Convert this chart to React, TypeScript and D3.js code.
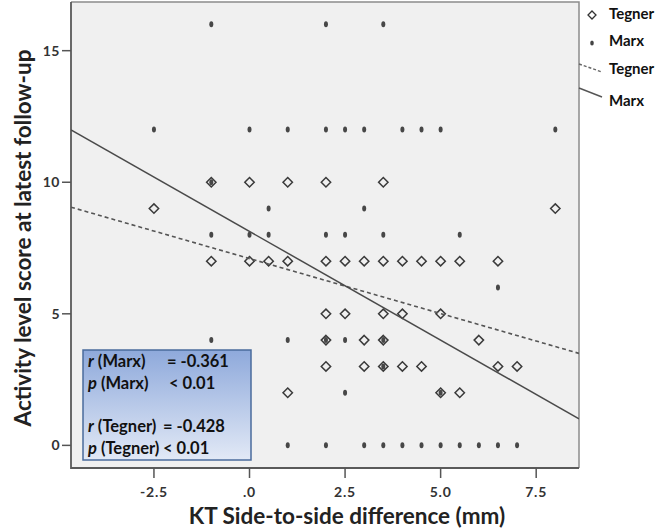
import React from 'react';
import * as d3 from 'd3';

// ---- data ----
const xTicks = [-2.5, 0, 2.5, 5, 7.5];
const xTickLabels = ['-2.5', '.0', '2.5', '5.0', '7.5'];
const yTicks = [0, 5, 10, 15];
const yTickLabels = ['0', '5', '10', '15'];

// Tegner scores (hollow diamonds): [KT diff, score]
const tegnerPoints: [number, number][] = [
  [-2.5, 9], [-1, 10], [0, 10], [1, 10], [2, 10], [3.5, 10], [8, 9],
  [-1, 7], [0, 7], [0.5, 7], [1, 7], [2, 7], [2.5, 7], [3, 7], [3.5, 7], [4, 7], [4.5, 7], [5, 7], [5.5, 7], [6.5, 7],
  [2, 5], [2.5, 5], [3.5, 5], [4, 5], [5, 5],
  [2, 4], [3, 4], [3.5, 4], [6, 4],
  [2, 3], [3, 3], [3.5, 3], [4, 3], [4.5, 3], [6.5, 3], [7, 3],
  [1, 2], [5, 2], [5.5, 2],
];

// Marx scores (small filled dots)
const marxPoints: [number, number][] = [
  [-1, 16], [2, 16], [3.5, 16],
  [-2.5, 12], [0, 12], [1, 12], [2, 12], [2.5, 12], [3, 12], [4, 12], [4.5, 12], [5, 12], [8, 12],
  [-1, 10],
  [0.5, 9], [3, 9],
  [-1, 8], [0, 8], [0.5, 8], [2, 8], [2.5, 8], [3.5, 8], [5.5, 8],
  [6.5, 6],
  [-1, 4], [1, 4], [2, 4], [2.5, 4], [3.5, 4],
  [3.5, 3],
  [2.5, 2], [5, 2],
  [1, 0], [2, 0], [3, 0], [3.5, 0], [4, 0], [4.5, 0], [5, 0], [5.5, 0], [6, 0], [6.5, 0], [7, 0],
];

// fit lines: [intercept, slope]
const marxFit = [8.13, -0.826];
const tegnerFit = [7.1, -0.418];

const legendLabels = ['Tegner', 'Marx', 'Tegner', 'Marx'];
const statNames = ['r', 'p', 'r', 'p'];
const statGroups = ['(Marx)', '(Marx)', '(Tegner)', '(Tegner)'];
const statValues = ['= -0.361', '< 0.01', '= -0.428', '< 0.01'];

const FONT = 'Lato, "Open Sans", sans-serif';

export default function App() {
  const W = 660, H = 531;
  const left = 71, right = 579, top = 2, bottom = 468;
  const x = d3.scaleLinear().domain([-4.67, 8.62]).range([left, right]);
  const y = d3.scaleLinear().domain([-0.86, 16.85]).range([bottom, top]);

  const diamond = (s: number) => `M0,${-s}L${s},0L0,${s}L${-s},0Z`;
  const [x0, x1] = x.domain();
  const fitLine = (f: number[]) =>
    d3.line<number>().x((v) => x(v)).y((v) => y(f[0] + f[1] * v))([x0, x1]) || '';

  const statLineY = [367, 389, 432, 454];
  const valueX = [167, 169, 163, 163];

  return (
    <svg width={W} height={H} style={{ position: 'absolute', left: 0, top: 0, background: '#fff' }}
      fontFamily={FONT}>
      <defs>
        <linearGradient id="boxg" x1="0" y1="0" x2="0" y2="1">
          <stop offset="0%" stopColor="#8ea9db" />
          <stop offset="100%" stopColor="#e2e9f6" />
        </linearGradient>
        <clipPath id="plotclip">
          <rect x={left} y={top} width={right - left} height={bottom - top} />
        </clipPath>
      </defs>
      {/* plot background */}
      <rect x={left} y={top} width={right - left} height={bottom - top} fill="#f0f0f0" />
      {/* top/right border */}
      <path d={`M${left},${top}H${right}V${bottom}`} fill="none" stroke="#8c8c8c" strokeWidth={1.5} />
      {/* axes */}
      <path d={`M${left},${top}V${bottom}H${right}`} fill="none" stroke="#5a5a5a" strokeWidth={1.8} />

      {/* y ticks */}
      {yTicks.map((t, i) => (
        <g key={'yt' + i}>
          <line x1={left - 9} x2={left} y1={y(t)} y2={y(t)} stroke="#555" strokeWidth={1.5} />
          <text x={left - 11} y={y(t) + 5} textAnchor="end" fontSize={14} fontWeight={700} fill="#333"
            letterSpacing={0.5}>
            {yTickLabels[i]}
          </text>
        </g>
      ))}
      {/* x ticks */}
      {xTicks.map((t, i) => (
        <g key={'xt' + i}>
          <line x1={x(t)} x2={x(t)} y1={bottom} y2={bottom + 10} stroke="#555" strokeWidth={1.5} />
          <text x={x(t)} y={497} textAnchor="middle" fontSize={14} fontWeight={700} fill="#333"
            letterSpacing={0.8}>
            {xTickLabels[i]}
          </text>
        </g>
      ))}

      <g clipPath="url(#plotclip)">
        {/* Marx dots */}
        {marxPoints.map((p, i) => (
          <ellipse key={'m' + i} cx={x(p[0])} cy={y(p[1])} rx={2} ry={3} fill="#474747" />
        ))}
        {/* Tegner diamonds */}
        {tegnerPoints.map((p, i) => (
          <path key={'t' + i} d={diamond(4.7)} transform={`translate(${x(p[0])},${y(p[1])})`}
            fill="none" stroke="#3a3a3a" strokeWidth={1.5} />
        ))}
        {/* fit lines */}
        <path d={fitLine(tegnerFit)} fill="none" stroke="#555" strokeWidth={1.6} strokeDasharray="4,3" />
        <path d={fitLine(marxFit)} fill="none" stroke="#4a4a4a" strokeWidth={1.5} />
      </g>

      {/* stats box */}
      <rect x={83} y={350} width={168} height={110} fill="url(#boxg)" stroke="#4a6b9c" strokeWidth={1.5} />
      {statNames.map((n, i) => (
        <g key={'s' + i}>
          <text x={88} y={statLineY[i]} fontSize={16.5} fontWeight={700} fill="#111">
            <tspan fontStyle="italic">{n}</tspan>
            <tspan> {statGroups[i]}</tspan>
          </text>
          <text x={valueX[i]} y={statLineY[i]} fontSize={16.5} fontWeight={700} fill="#111">
            {statValues[i]}
          </text>
        </g>
      ))}

      {/* legend */}
      <path d={diamond(4)} transform="translate(592,15)" fill="none" stroke="#333" strokeWidth={1.3} />
      <ellipse cx={592} cy={43} rx={1.8} ry={2.6} fill="#444" />
      <line x1={579} y1={64} x2={602} y2={72} stroke="#666" strokeWidth={1.4} strokeDasharray="3,2" />
      <line x1={579} y1={88} x2={602} y2={97} stroke="#555" strokeWidth={1.4} />
      {legendLabels.map((l, i) => (
        <text key={'l' + i} x={609} y={[19, 46, 74, 106][i]} fontSize={15} fontWeight={700} fill="#111">
          {l}
        </text>
      ))}

      {/* axis titles */}
      <text x={347} y={524} textAnchor="middle" fontSize={22.5} fontWeight={700} fill="#222">
        KT Side-to-side difference (mm)
      </text>
      <text transform="translate(31,238) rotate(-90)" textAnchor="middle" fontSize={22.5} fontWeight={700} fill="#222">
        Activity level score at latest follow-up
      </text>
    </svg>
  );
}
